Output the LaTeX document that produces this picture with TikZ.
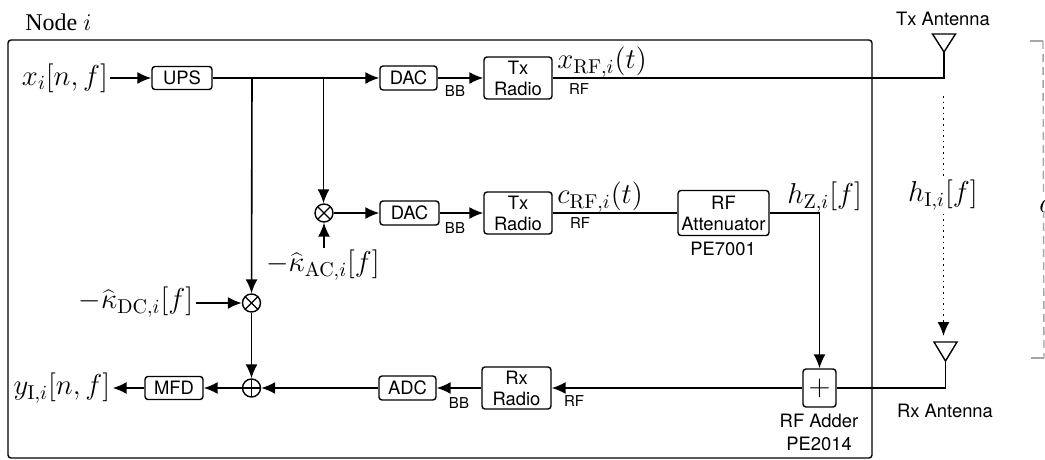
\documentclass[tikz,border=0pt]{standalone}
\usepackage[no-math]{fontspec}
\setsansfont{TeX Gyre Heros}
\newfontfamily\timesfont{Liberation Serif}
\usetikzlibrary{arrows.meta}
\tikzset{
    sig/.style={line width=0.8pt, -{Latex[length=7pt,width=6pt]}},
    wire/.style={line width=0.8pt},
    blockbox/.style={draw, line width=0.7pt, rounded corners=1.5pt, inner sep=0pt, align=center,
        font=\sffamily\fontsize{9.2}{10.5}\selectfont},
    tinylabel/.style={inner sep=0pt, font=\sffamily\fontsize{7.5}{9}\selectfont},
    textlabel/.style={inner sep=0pt, align=center, font=\sffamily\fontsize{9.2}{11}\selectfont},
    mathlabel/.style={inner sep=1pt, font=\fontsize{14.4}{16}\selectfont},
    mixnode/.style={circle, draw, line width=0.7pt, minimum size=9pt, inner sep=0pt,
        path picture={
            \draw[line width=0.7pt] (path picture bounding box.north west) -- (path picture bounding box.south east);
            \draw[line width=0.7pt] (path picture bounding box.north east) -- (path picture bounding box.south west);
        }},
    sumnode/.style={circle, draw, line width=0.7pt, minimum size=9pt, inner sep=0pt,
        path picture={
            \draw[line width=0.7pt] (path picture bounding box.north) -- (path picture bounding box.south);
            \draw[line width=0.7pt] (path picture bounding box.west) -- (path picture bounding box.east);
        }},
}
\begin{document}
\begin{tikzpicture}[x=0.5pt, y=-0.5pt]

    \useasboundingbox (0, 0) rectangle (1045, 460);

    % Marco del nodo
    \draw[line width=0.7pt, rounded corners=1.5pt] (8, 40) rectangle (872, 458);
    \node[inner sep=0pt, anchor=west, font=\timesfont\fontsize{12}{14}\selectfont] (nodetitle) at (25, 22) {Node $i$};

    % Bloques
    \node[blockbox, minimum width=30pt, minimum height=11.5pt] (ups) at (182, 78) {UPS};
    \node[blockbox, minimum width=28.5pt, minimum height=12pt] (dacA) at (408.5, 78) {DAC};
    \node[blockbox, minimum width=34pt, minimum height=21pt] (txA) at (518, 78) {Tx\\Radio};
    \node[blockbox, minimum width=29.5pt, minimum height=12pt] (dacB) at (409.5, 213) {DAC};
    \node[blockbox, minimum width=34pt, minimum height=21pt] (txB) at (518, 213) {Tx\\Radio};
    \node[blockbox, minimum width=45.5pt, minimum height=22.5pt] (atten) at (723.5, 213) {RF\\Attenuator};
    \node[blockbox, minimum width=16.5pt, minimum height=19pt, font=\fontsize{14.4}{16}\selectfont] (adder) at (819.5, 388) {$+$};
    \node[blockbox, minimum width=34.5pt, minimum height=21pt] (rxR) at (516.5, 388) {Rx\\Radio};
    \node[blockbox, minimum width=28.5pt, minimum height=12pt] (adc) at (407.5, 388) {ADC};
    \node[blockbox, minimum width=29pt, minimum height=11.5pt] (mfd) at (174, 388) {MFD};

    % Mezcladores y sumador
    \node[mixnode] (mixAC) at (324, 213) {};
    \node[mixnode] (mixDC) at (251.5, 303) {};
    \node[sumnode] (sumY) at (251.5, 388) {};

    % Etiquetas matematicas
    \node[mathlabel] (xin) at (65, 78) {$x_i[n,f]$};
    \node[mathlabel] (yout) at (62, 388) {$y_{\mathrm{I},i}[n,f]$};
    \node[mathlabel] (kapDC) at (136, 302) {$-\widehat{\kappa}_{\mathrm{DC},i}[f]$};
    \node[mathlabel] (kapAC) at (323, 265) {$-\widehat{\kappa}_{\mathrm{AC},i}[f]$};
    \node[mathlabel, anchor=west] (xrf) at (555, 62) {$x_{\mathrm{RF},i}(t)$};
    \node[mathlabel, anchor=west] (crf) at (555, 197) {$c_{\mathrm{RF},i}(t)$};
    \node[mathlabel, anchor=west] (hz) at (785, 197) {$h_{\mathrm{Z},i}[f]$};

    % Etiquetas BB y RF
    \node[tinylabel] (bbA) at (455, 91) {BB};
    \node[tinylabel] (rfA) at (579, 89) {RF};
    \node[tinylabel] (bbB) at (455, 228) {BB};
    \node[tinylabel] (rfB) at (580, 223) {RF};
    \node[tinylabel] (bbC) at (459, 403) {BB};
    \node[tinylabel] (rfC) at (574, 401) {RF};

    % Textos
    \node[textlabel] (attenpart) at (723, 249) {PE7001};
    \node[textlabel] (adderpart) at (819, 432) {RF Adder\\[0.5pt]PE2014};
    \node[textlabel] (txname) at (943, 19) {Tx Antenna};
    \node[textlabel] (rxname) at (945, 411) {Rx Antenna};

    % Antenas
    \coordinate (antTx) at (944, 52);
    \coordinate (antRx) at (945.5, 361);
    \draw[line width=0.7pt] (932.5, 34) -- (955.5, 34) -- (antTx) -- cycle;
    \draw[line width=0.7pt] (934, 342) -- (957, 342) -- (antRx) -- cycle;

    % Puntos auxiliares
    \coordinate (tapDC) at (252, 78);
    \coordinate (tapAC) at (323.5, 78);
    \coordinate (cornerTx) at (944, 78);
    \coordinate (cornerRx) at (945.5, 388);
    \coordinate (cornerZ) at (819.5, 213);
    \coordinate (dotTop) at (943.5, 96);
    \coordinate (dotEnd) at (943.5, 336);

    % Conexiones superiores
    \draw[sig] (xin.east |- ups.west) -- (ups.west);
    \draw[sig] (ups) -- (dacA);
    \draw[sig] (dacA) -- (txA);
    \draw[wire] (txA) -- (cornerTx) -- (antTx);
    \draw[sig] (tapDC) -- (mixDC);
    \draw[sig] (tapAC) -- (tapAC |- mixAC.north);

    % Conexiones centrales
    \draw[sig] (mixAC) -- (dacB);
    \draw[sig] (dacB) -- (txB);
    \draw[wire] (txB) -- (atten);
    \draw[wire] (atten) -- (cornerZ);
    \draw[sig] (cornerZ) -- (adder);
    \draw[sig] (kapAC.north -| mixAC) -- (mixAC);
    \draw[sig] (kapDC.east |- mixDC.west) -- (mixDC.west);

    % Conexiones inferiores
    \draw[sig] (mixDC) -- (sumY);
    \draw[wire] (antRx) -- (cornerRx) -- (adder);
    \draw[sig] (adder) -- (rxR);
    \draw[sig] (rxR) -- (adc);
    \draw[sig] (adc) -- (sumY);
    \draw[sig] (sumY) -- (mfd);
    \draw[sig] (mfd.west) -- (yout.east |- mfd.west);

    % Canal entre antenas
    \draw[sig, dotted] (dotTop) -- (dotEnd);
    \node[mathlabel, fill=white] (hi) at (943, 195) {$h_{\mathrm{I},i}[f]$};

    % Distancia
    \coordinate (brTopL) at (1030, 41);
    \coordinate (brTopR) at (1043, 41);
    \coordinate (brBotL) at (1031, 358);
    \coordinate (brBotR) at (1044, 358);
    \draw[gray!70, line width=0.7pt] (brTopL) -- (brTopR);
    \draw[gray!70, line width=0.7pt] (brBotL) -- (brBotR);
    \draw[gray!70, line width=0.7pt, dash pattern=on 4pt off 2.5pt] (brTopR) -- (brBotR);
    \node[mathlabel, fill=white, anchor=west, inner sep=0pt] (dist) at (1039, 203) {$d$};

\end{tikzpicture}
\end{document}
